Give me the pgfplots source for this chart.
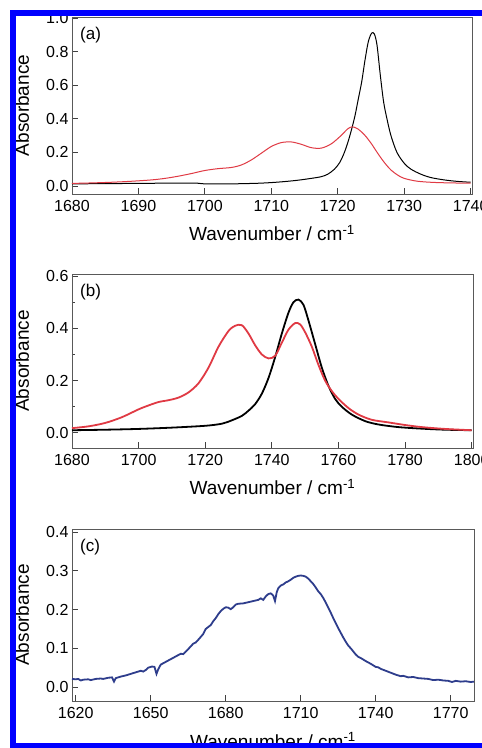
\documentclass[border=0pt]{standalone}
\usepackage{fontspec}
\setmainfont{Liberation Sans}
\usepackage{pgfplots}
\pgfplotsset{compat=1.18}
\definecolor{specRed}{HTML}{E03A44}
\definecolor{specBlue}{HTML}{2E3D8C}
\definecolor{frameBlue}{HTML}{0000FF}

\pgfplotsset{
  spec/.style={
    scale only axis, anchor=south west,
    axis line style={black!65, line width=0.8pt},
    tick align=inside, xtick pos=bottom, ytick pos=left,
    major tick length=6pt, minor tick length=3.5pt,
    tick style={black!75, line width=0.8pt},
    ticklabel style={font=\fontsize{16}{16}\selectfont},
    xticklabel style={yshift=-3pt},
    /pgf/number format/assume math mode=true,
    /pgf/number format/set thousands separator={},
    yticklabel style={/pgf/number format/fixed, /pgf/number format/fixed zerofill,
      /pgf/number format/precision=1},
    xlabel={Wavenumber / cm\textsuperscript{-1}},
    ylabel={Absorbance},
    label style={font=\fontsize{19}{19}\selectfont},
    xlabel style={at={(rel axis cs:0.5,0)}, anchor=base, yshift=-47pt},
    ylabel style={at={(rel axis cs:0,0.5)}, anchor=center, yshift=50pt},
    clip=true,
  }
}
\tikzset{panel/.style={anchor=north west, inner sep=0pt,
  font=\fontsize{17}{17}\selectfont, xshift=8pt, yshift=-10pt}}

\begin{document}
\begin{tikzpicture}
\useasboundingbox (0,0) rectangle (482pt,748pt);
\clip (0,0) rectangle (482pt,748pt);
\fill[white] (0,0) rectangle (482pt,748pt);

% (a)
\begin{axis}[spec, at={(72pt,554pt)}, width=400pt, height=177pt,
  xmin=1680, xmax=1740.2, ymin=-0.048, ymax=1.006,
  xtick={1680,1690,...,1740}, ytick={0,0.2,...,1.0}]
\addplot[black, line width=1pt, smooth] coordinates {
  (1680,0.012) (1685,0.014) (1690,0.015) (1695,0.017) (1698.5,0.017) (1700,0.012)
  (1702,0.012) (1705,0.013) (1708,0.016) (1710,0.02) (1712,0.026) (1714,0.034)
  (1716,0.045) (1717.5,0.055) (1718.5,0.07) (1719.5,0.1) (1720.3,0.14) (1721,0.2)
  (1721.6,0.27) (1722.1,0.34) (1722.6,0.42) (1723.1,0.52) (1723.6,0.62) (1724.1,0.75)
  (1724.6,0.86) (1725.1,0.91) (1725.5,0.905) (1725.9,0.84) (1726.4,0.66) (1726.9,0.5)
  (1727.4,0.4) (1728,0.3) (1728.9,0.2) (1730,0.135) (1731,0.1) (1732.5,0.07)
  (1734,0.05) (1736,0.036) (1738,0.027) (1740,0.022)};
\addplot[specRed, line width=1pt, smooth] coordinates {
  (1680,0.015) (1683,0.018) (1686,0.022) (1689,0.028) (1692,0.036) (1694,0.045)
  (1696,0.058) (1698,0.074) (1700,0.092) (1702,0.103) (1704,0.11) (1705.5,0.125)
  (1707,0.155) (1708.5,0.195) (1710,0.235) (1711.5,0.258) (1713,0.262) (1714.5,0.248)
  (1716,0.228) (1717.5,0.225) (1719,0.25) (1720.5,0.3) (1721.5,0.34) (1722.2,0.352)
  (1723,0.34) (1724,0.305) (1725,0.255) (1726,0.195) (1727,0.14) (1728,0.095)
  (1729,0.065) (1730,0.045) (1732,0.028) (1735,0.02) (1740,0.016)};
\node[panel] at (rel axis cs:0,1) {(a)};
\end{axis}

% (b)
\begin{axis}[spec, at={(72pt,300pt)}, width=401pt, height=174pt,
  xmin=1680, xmax=1800.4, ymin=-0.058, ymax=0.608,
  xtick={1680,1700,...,1800}, ytick={0,0.2,...,0.6}, minor y tick num=1]
\addplot[black, line width=1.8pt, smooth] coordinates {
  (1680,0.01) (1690,0.012) (1700,0.015) (1710,0.02) (1720,0.027) (1725,0.035)
  (1728,0.048) (1731,0.065) (1733,0.085) (1735,0.11) (1737,0.15) (1739,0.21)
  (1741,0.29) (1743,0.38) (1745,0.46) (1746.5,0.5) (1748,0.51) (1749.5,0.49)
  (1751,0.43) (1753,0.34) (1755,0.25) (1757,0.18) (1759,0.13) (1761,0.1)
  (1764,0.07) (1768,0.045) (1772,0.032) (1778,0.022) (1785,0.016) (1792,0.012)
  (1800,0.01)};
\addplot[specRed, line width=1.8pt, smooth] coordinates {
  (1680,0.018) (1685,0.025) (1690,0.038) (1695,0.06) (1700,0.09) (1703,0.105)
  (1706,0.118) (1709,0.125) (1712,0.135) (1715,0.155) (1718,0.19) (1721,0.25)
  (1724,0.33) (1727,0.39) (1729,0.41) (1731,0.412) (1733,0.38) (1735,0.335)
  (1737,0.3) (1739,0.285) (1741,0.295) (1743,0.345) (1745,0.395) (1747,0.42)
  (1748.5,0.415) (1750,0.385) (1752,0.33) (1754,0.26) (1756,0.2) (1758,0.16)
  (1760,0.13) (1763,0.095) (1766,0.07) (1770,0.05) (1775,0.04) (1780,0.03)
  (1785,0.022) (1792,0.015) (1800,0.01)};
\node[panel] at (rel axis cs:0,1) {(b)};
\end{axis}

% (c)
\begin{axis}[spec, at={(72pt,47pt)}, width=402pt, height=172pt,
  xmin=1618.5, xmax=1779.3, ymin=-0.036, ymax=0.408,
  xtick={1620,1650,...,1770}, ytick={0,0.1,...,0.4}]
\addplot[specBlue, line width=1.8pt] coordinates {
  (1618.5,0.021) (1620,0.020) (1621,0.021) (1622,0.017) (1623,0.019) (1625,0.020)
  (1626,0.018) (1628,0.021) (1630,0.022) (1631,0.021) (1633,0.024) (1634.5,0.025)
  (1635.3,0.014) (1636,0.023) (1638,0.027) (1640,0.030) (1642,0.034) (1644,0.038)
  (1646,0.042) (1647,0.040) (1648,0.044) (1649,0.050) (1650.5,0.053) (1651.5,0.052)
  (1652.3,0.034) (1653,0.046) (1654,0.058) (1656,0.065) (1658,0.072) (1660,0.079)
  (1662,0.086) (1663,0.085) (1665,0.098) (1667,0.112) (1668,0.115) (1669,0.122)
  (1671,0.137) (1672,0.15) (1673,0.155) (1674,0.16) (1675,0.17) (1676,0.178)
  (1677,0.188) (1678,0.196) (1679,0.202) (1680,0.206) (1681,0.205) (1682,0.201)
  (1683,0.206) (1684,0.213) (1685,0.215) (1687,0.216) (1689,0.219) (1691,0.222)
  (1693,0.225) (1694,0.229) (1695,0.225) (1696,0.234) (1697,0.24) (1698,0.242)
  (1699,0.236) (1699.7,0.222) (1700.4,0.245) (1701,0.255) (1702,0.262) (1703,0.265)
  (1704,0.27) (1705,0.273) (1706,0.277) (1707,0.282) (1708,0.285) (1709,0.287)
  (1710,0.288) (1711,0.287) (1712,0.285) (1713,0.28) (1714,0.273) (1715,0.266)
  (1716,0.257) (1717,0.247) (1718,0.24) (1719,0.23) (1720,0.218) (1721,0.205)
  (1722,0.192) (1723,0.178) (1724,0.165) (1725,0.152) (1726,0.14) (1727,0.128)
  (1728,0.117) (1729,0.107) (1730,0.1) (1731,0.092) (1732,0.084) (1733,0.078)
  (1734,0.075) (1735,0.071) (1736,0.067) (1738,0.06) (1739,0.056) (1740,0.052)
  (1741,0.051) (1742,0.047) (1744,0.042) (1746,0.037) (1748,0.032) (1750,0.028)
  (1751,0.029) (1753,0.025) (1755,0.026) (1757,0.023) (1759,0.022) (1761,0.021)
  (1763,0.018) (1765,0.019) (1767,0.017) (1769,0.016) (1770.5,0.013) (1772,0.016)
  (1774,0.014) (1776,0.015) (1778,0.013) (1779.3,0.014)};
\node[panel] at (rel axis cs:0,1) {(c)};
\end{axis}

% blue frame of the figure
\fill[frameBlue] (10pt,732pt) rectangle (482pt,738pt);
\fill[frameBlue] (10pt,0pt) rectangle (16pt,738pt);
\fill[frameBlue] (10pt,0pt) rectangle (482pt,5pt);
\end{tikzpicture}
\end{document}
